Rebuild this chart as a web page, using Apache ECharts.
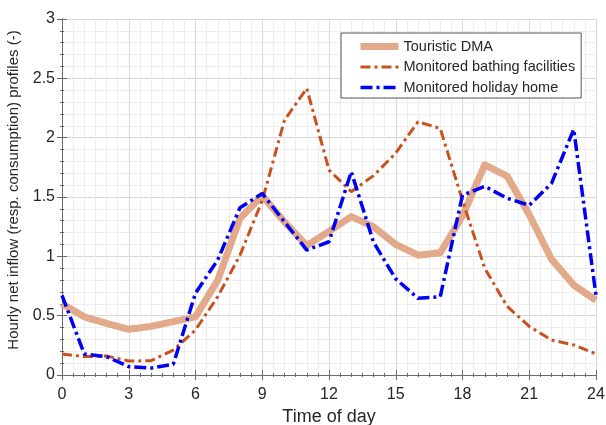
<!DOCTYPE html>
<html>
<head>
<meta charset="utf-8">
<script src="https://cdn.jsdelivr.net/npm/echarts@6/dist/echarts.min.js"></script>
<style>
html,body{margin:0;padding:0;background:#fff;}
#c{width:606px;height:425px;}
</style>
</head>
<body>
<div id="c"></div>
<script>
const hours = [0,1,2,3,4,5,6,7,8,9,10,11,12,13,14,15,16,17,18,19,20,21,22,23,24];
const xTicks = [0,3,6,9,12,15,18,21,24];
const yTicks = [0,0.5,1,1.5,2,2.5,3];
const seriesNames = ['Touristic DMA','Monitored bathing facilities','Monitored holiday home'];
const touristic = [0.60,0.49,0.435,0.385,0.41,0.45,0.49,0.80,1.32,1.51,1.29,1.09,1.21,1.335,1.25,1.10,1.01,1.03,1.34,1.77,1.676,1.35,0.975,0.758,0.63];
const bathing   = [0.177,0.155,0.16,0.118,0.12,0.21,0.38,0.66,1.01,1.47,2.148,2.415,1.727,1.545,1.68,1.87,2.134,2.078,1.47,0.90,0.58,0.41,0.295,0.253,0.177];
const holiday   = [0.67,0.177,0.155,0.07,0.058,0.09,0.69,0.97,1.41,1.53,1.29,1.053,1.123,1.713,1.12,0.81,0.646,0.66,1.516,1.59,1.49,1.43,1.615,2.07,0.67];

const pair = arr => hours.map((h,i)=>[h,arr[i]]);
const FONT = '"Liberation Sans", Arial, sans-serif';
const txt = '#262626';
const axisCol = '#6a6a6a';
const majorGrid = {show:true, lineStyle:{color:'#d8d8d8', width:1}};
const minorGrid = {show:true, lineStyle:{color:'#ededed', width:1}};
const colTour = '#E2A98B', colBath = '#C8521E', colHol = '#0000F5';
const dashBath = [10,4,3,4], dashHol = [12,4,3,4];

const chart = echarts.init(document.getElementById('c'), null, {renderer:'canvas'});
chart.setOption({
  animation:false,
  backgroundColor:'#fff',
  textStyle:{fontFamily:FONT},
  grid:{left:62, right:10, top:19, bottom:50, containLabel:false, outerBoundsMode:'none'},
  xAxis:[{
    type:'value', min:xTicks[0], max:xTicks[xTicks.length-1], interval:3,
    name:'Time of day', nameLocation:'middle', nameGap:31,
    nameTextStyle:{fontSize:18, color:txt, fontFamily:FONT},
    axisLine:{show:true, onZero:false, lineStyle:{color:axisCol}},
    axisTick:{show:true, inside:true, length:5, lineStyle:{color:axisCol}},
    minorTick:{show:true, splitNumber:6, length:2, lineStyle:{color:axisCol}},
    axisLabel:{fontSize:16, color:txt, margin:12, fontFamily:FONT},
    splitLine:majorGrid, minorSplitLine:minorGrid
  },{
    type:'value', position:'top', min:0, max:24, interval:3,
    axisLine:{show:true, lineStyle:{color:axisCol}},
    axisTick:{show:true, inside:true, length:5, lineStyle:{color:axisCol}},
    minorTick:{show:true, splitNumber:6, length:2, lineStyle:{color:axisCol}},
    axisLabel:{show:false}, splitLine:{show:false}
  }],
  yAxis:[{
    type:'value', min:yTicks[0], max:yTicks[yTicks.length-1], interval:0.5,
    name:'Hourly net inflow (resp. consumption) profiles (-)', nameLocation:'middle', nameGap:36,
    nameTextStyle:{fontSize:15, color:txt, fontFamily:FONT, padding:[0,0,0,14]},
    axisLine:{show:true, onZero:false, lineStyle:{color:axisCol}},
    axisTick:{show:true, inside:true, length:5, lineStyle:{color:axisCol}},
    minorTick:{show:true, splitNumber:5, length:2, lineStyle:{color:axisCol}},
    axisLabel:{fontSize:16, color:txt, margin:7, fontFamily:FONT},
    splitLine:majorGrid, minorSplitLine:minorGrid
  },{
    type:'value', position:'right', min:0, max:3, interval:0.5,
    axisLine:{show:true, lineStyle:{color:axisCol}},
    axisTick:{show:true, inside:true, length:5, lineStyle:{color:axisCol}},
    minorTick:{show:true, splitNumber:5, length:2, lineStyle:{color:axisCol}},
    axisLabel:{show:false}, splitLine:{show:false}
  }],
  legend:{
    orient:'vertical', left:341, top:33,
    padding:[6,6,3,16], itemGap:5.5, itemWidth:38, itemHeight:15,
    backgroundColor:'#fff', borderColor:'#555', borderWidth:1,
    textStyle:{fontSize:14.5, color:txt, fontFamily:FONT},
    itemStyle:{opacity:0},
    data:[
      {name:seriesNames[0], lineStyle:{width:7, color:colTour}},
      {name:seriesNames[1], lineStyle:{width:3, color:colBath, type:dashBath}},
      {name:seriesNames[2], lineStyle:{width:3.5, color:colHol, type:dashHol}}
    ]
  },
  series:[
    {name:seriesNames[0], type:'line', data:pair(touristic), symbol:'none', z:2,
     lineStyle:{color:colTour, width:7, join:'round'}, itemStyle:{color:colTour}},
    {name:seriesNames[1], type:'line', data:pair(bathing), symbol:'none', z:3,
     lineStyle:{color:colBath, width:3, type:dashBath}, itemStyle:{color:colBath}},
    {name:seriesNames[2], type:'line', data:pair(holiday), symbol:'none', z:4,
     lineStyle:{color:colHol, width:3.5, type:dashHol}, itemStyle:{color:colHol}}
  ]
});
</script>
</body>
</html>
